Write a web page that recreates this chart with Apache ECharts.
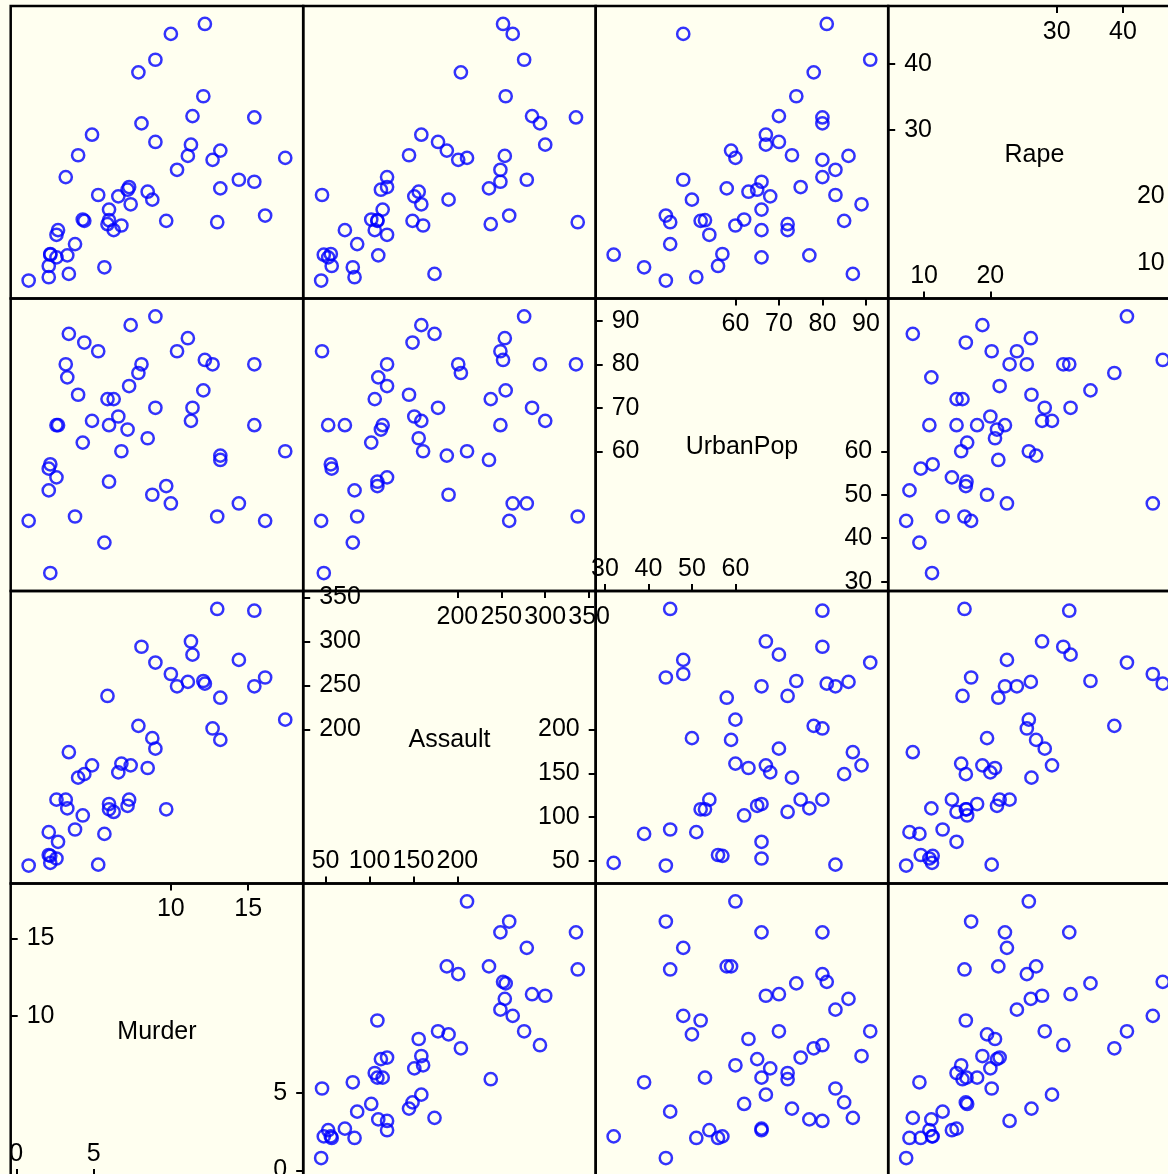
<!DOCTYPE html>
<html>
<head>
<meta charset="utf-8">
<script src="https://cdn.jsdelivr.net/npm/echarts@6/dist/echarts.min.js"></script>
<style>
html,body{margin:0;padding:0;background:#FFFFF0;}
#chart{width:1168px;height:1174px;}
</style>
</head>
<body>
<div id="chart"></div>
<script>
// USArrests data (50 states)
const murder = [13.2,10.0,8.1,8.8,9.0,7.9,3.3,5.9,15.4,17.4,5.3,2.6,10.4,7.2,2.2,6.0,9.7,15.4,2.1,11.3,4.4,12.1,2.7,16.1,9.0,6.0,4.3,12.2,2.1,7.4,11.4,11.1,13.0,0.8,7.3,6.6,4.9,6.3,3.4,14.4,3.8,13.2,12.7,3.2,2.2,8.5,4.0,5.7,2.6,6.8];
const assault = [236,263,294,190,276,204,110,238,335,211,46,120,249,113,56,115,109,249,83,300,149,255,72,259,178,109,102,252,57,159,285,254,337,45,120,151,159,106,174,279,86,188,201,120,48,156,145,81,53,161];
const urbanPop = [58,48,80,50,91,78,77,72,80,60,83,54,83,65,57,66,52,66,51,67,85,74,66,44,70,53,62,81,56,89,70,86,45,44,75,68,67,72,87,48,45,59,80,80,32,63,73,39,66,60];
const rape = [21.2,44.5,31.0,19.5,40.6,38.7,11.1,15.8,31.9,25.8,20.2,14.2,24.0,21.0,11.3,18.0,16.3,22.2,7.8,27.8,16.3,35.1,14.9,17.1,28.2,16.4,16.5,46.0,9.5,18.8,32.1,26.1,16.1,7.3,21.4,20.0,29.3,14.9,8.3,22.5,12.8,26.9,25.5,22.9,11.2,20.7,26.2,9.3,10.8,15.6];

const varNames = ['Murder','Assault','UrbanPop','Rape'];
const lowerTicks = [[0,5],[50,100,150,200],[30,40,50,60],[10,20]];
const upperTicks = [[10,15],[200,250,300,350],[60,70,80,90],[30,40]];

const columns = [murder, assault, urbanPop, rape];
const limits = columns.map(function(a){
  const lo = Math.min.apply(null,a), hi = Math.max.apply(null,a), d = hi-lo;
  return [lo-0.07*d, hi+0.07*d];
});

const L0 = 10.7, T0 = 6, S = 292.5;
const FONT = 'Liberation Sans, Arial, Helvetica, sans-serif';
const FS = 25;
const grids=[], xAxes=[], yAxes=[], series=[], graphics=[];

function tickAxis(g, lim, pos, vals, margin){
  return {
    gridIndex:g, type:'value', min:lim[0], max:lim[1], position:pos,
    axisLine:{show:false, onZero:false}, splitLine:{show:false},
    axisTick:{show:true, inside:true, length:7, customValues:vals, lineStyle:{color:'#000', width:2}},
    axisLabel:{show:true, inside:true, margin:margin, customValues:vals, color:'#000', fontSize:FS, fontFamily:FONT,
      formatter:function(v){return String(v);}}
  };
}

let g = 0;
for (let r=0; r<4; r++){
  for (let c=0; c<4; c++){
    const xi = c, yi = 3-r;
    grids.push({left:L0+c*S, top:T0+r*S, width:S, height:S, show:true, borderColor:'#000', borderWidth:2.5,
      backgroundColor:'transparent', containLabel:false, outerBoundsMode:'none'});
    if (xi===yi){
      const lim = limits[xi];
      xAxes.push(tickAxis(g, lim, 'bottom', lowerTicks[xi], 9.5));
      xAxes.push(tickAxis(g, lim, 'top', upperTicks[xi], 13.5));
      yAxes.push(tickAxis(g, lim, 'left', upperTicks[xi], 16));
      yAxes.push(tickAxis(g, lim, 'right', lowerTicks[xi], 16));
      graphics.push({type:'text', x:L0+c*S+S/2, y:T0+r*S+S/2+2.5, style:{text:varNames[xi], fill:'#000', font:FS+'px '+FONT, align:'center', verticalAlign:'middle'}});
    } else {
      const xa = xAxes.length, ya = yAxes.length;
      xAxes.push({gridIndex:g, type:'value', min:limits[xi][0], max:limits[xi][1], show:false, axisLine:{onZero:false}});
      yAxes.push({gridIndex:g, type:'value', min:limits[yi][0], max:limits[yi][1], show:false, axisLine:{onZero:false}});
      series.push({
        type:'scatter', xAxisIndex:xa, yAxisIndex:ya,
        symbol:'circle', symbolSize:12.2,
        itemStyle:{color:'rgba(0,0,0,0)', borderColor:'#0000FF', borderWidth:2.5},
        emphasis:{disabled:true},
        data: columns[xi].map(function(v,k){return [v, columns[yi][k]];})
      });
    }
    g++;
  }
}

const chart = echarts.init(document.getElementById('chart'), null, {renderer:'canvas'});
chart.setOption({
  backgroundColor:'#FFFFF0',
  animation:false,
  grid:grids, xAxis:xAxes, yAxis:yAxes, series:series,
  graphic:graphics
});
</script>
</body>
</html>
